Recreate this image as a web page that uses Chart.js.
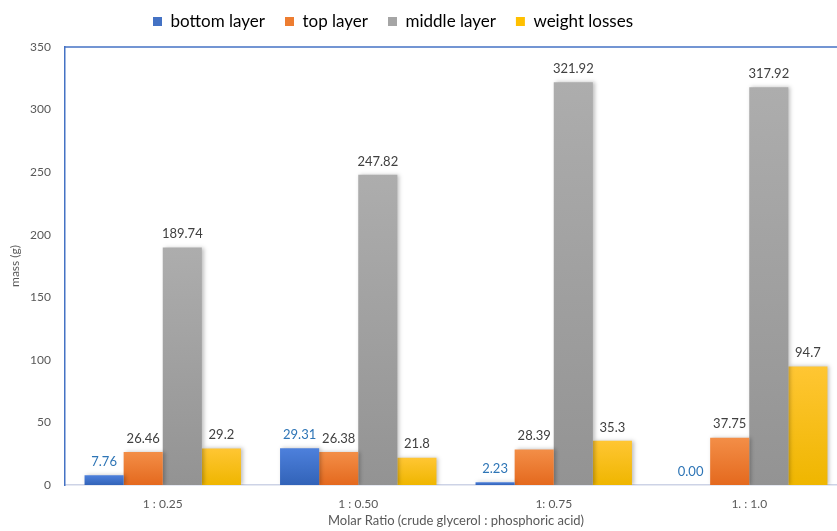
<!DOCTYPE html>
<html>
<head>
<meta charset="utf-8">
<script src="https://cdn.jsdelivr.net/npm/chart.js@4"></script>
<style>
html,body{margin:0;padding:0;overflow:hidden;background:#fff;width:837px;height:531px;}
#wrap{width:850px;height:531px;}
</style>
</head>
<body>
<div id="wrap"><canvas id="c" width="850" height="531"></canvas></div>
<script>
const categories = ['1 : 0.25', '1 : 0.50', '1: 0.75', '1. : 1.0'];
const seriesNames = ['bottom layer', 'top layer', 'middle layer', 'weight losses'];
const bottomLayer = [7.76, 29.31, 2.23, 0.00];
const topLayer = [26.46, 26.38, 28.39, 37.75];
const middleLayer = [189.74, 247.82, 321.92, 317.92];
const weightLosses = [29.2, 21.8, 35.3, 94.7];
const labelDecimals = [2, 2, 2, 1];
const yTicks = [0, 50, 100, 150, 200, 250, 300, 350];

const flatColors = ['#4472c4', '#ed7d31', '#a5a5a5', '#ffc000'];
const gradTop = ['#4d80dc', '#f38e47', '#adadad', '#ffc633'];
const gradBot = ['#3263b8', '#e4691e', '#939393', '#efb600'];

function barGradient(i) {
  return function (ctx) {
    const chart = ctx.chart;
    if (!chart.chartArea || ctx.type !== 'data') return flatColors[i];
    const y = chart.scales.y;
    const top = y.getPixelForValue(ctx.raw);
    const base = y.getPixelForValue(0);
    if (Math.abs(base - top) < 1) return flatColors[i];
    const g = chart.ctx.createLinearGradient(0, top, 0, base);
    g.addColorStop(0, gradTop[i]);
    g.addColorStop(1, gradBot[i]);
    return g;
  };
}

const allSeries = [bottomLayer, topLayer, middleLayer, weightLosses];
const datasets = allSeries.map((d, i) => ({
  label: seriesNames[i],
  data: d,
  backgroundColor: barGradient(i),
  borderWidth: 0,
  categoryPercentage: 0.8,
  barPercentage: 1.0
}));

const FONT = 'Lato, "Open Sans", sans-serif';

const framePlugin = {
  id: 'frame',
  beforeInit(chart) {
    const lg = chart.legend;
    if (lg) {
      const fit = lg.fit;
      lg.fit = function () { fit.call(this); this.height = 47; };
    }
  },
  afterLayout(chart) {
    const lg = chart.legend;
    if (lg) {
      lg.left = 133;
      lg.top = -7;
    }
  },
  beforeDatasetsDraw(chart) {
    const c = chart.ctx;
    c.save();
    c.shadowColor = 'rgba(0,0,0,0.25)';
    c.shadowBlur = 4;
    c.shadowOffsetX = 2;
    c.shadowOffsetY = 0;
  },
  afterDatasetsDraw(chart) {
    const c = chart.ctx;
    c.restore();
    const a = chart.chartArea;
    c.save();
    c.strokeStyle = '#4472c4';
    c.lineWidth = 1.5;
    c.beginPath();
    c.moveTo(a.left, a.top);
    c.lineTo(a.right, a.top);
    c.stroke();
    c.restore();
    c.save();
    c.font = '13px ' + FONT;
    c.textAlign = 'center';
    c.textBaseline = 'bottom';
    chart.data.datasets.forEach((ds, di) => {
      const meta = chart.getDatasetMeta(di);
      c.fillStyle = di === 0 ? '#2e75b6' : '#404040';
      meta.data.forEach((el, j) => {
        c.fillText(Number(ds.data[j]).toFixed(labelDecimals[di]), el.x, el.y - 7);
      });
    });
    c.restore();
  }
};

new Chart(document.getElementById('c'), {
  type: 'bar',
  data: { labels: categories, datasets },
  options: {
    responsive: false,
    animation: false,
    layout: { padding: { left: 0, right: 3, top: 0, bottom: 0 } },
    plugins: {
      tooltip: { enabled: false },
      legend: {
        position: 'top',
        align: 'start',
        labels: {
          boxWidth: 9,
          boxHeight: 9,
          padding: 20,
          color: '#404040',
          font: { family: FONT, size: 17 },
          generateLabels(chart) {
            return chart.data.datasets.map((ds, i) => ({
              text: ds.label,
              fillStyle: flatColors[i],
              strokeStyle: flatColors[i],
              lineWidth: 0,
              hidden: false,
              datasetIndex: i
            }));
          }
        }
      }
    },
    scales: {
      x: {
        grid: { display: false, drawTicks: false },
        border: { display: true, color: '#cdd3e6', width: 1.5 },
        ticks: { color: '#595959', font: { family: FONT, size: 12 }, padding: 12 },
        title: {
          display: true,
          text: 'Molar Ratio (crude glycerol : phosphoric acid)',
          color: '#595959',
          font: { family: FONT, size: 13 },
          padding: { top: 4, bottom: 2 }
        },
        afterFit(s) { s.height = 46; }
      },
      y: {
        min: 0,
        max: 350,
        afterBuildTicks(s) { s.ticks = yTicks.map(v => ({ value: v })); },
        grid: { display: false, drawTicks: false },
        border: { display: true, color: '#4472c4', width: 1.5 },
        ticks: { color: '#595959', font: { family: FONT, size: 12 }, padding: 14 },
        title: {
          display: true,
          text: 'mass (g)',
          color: '#595959',
          font: { family: FONT, size: 12 },
          padding: { top: 8, bottom: 0 }
        },
        afterFit(s) { s.width = 65; }
      }
    }
  },
  plugins: [framePlugin]
});
</script>
</body>
</html>
